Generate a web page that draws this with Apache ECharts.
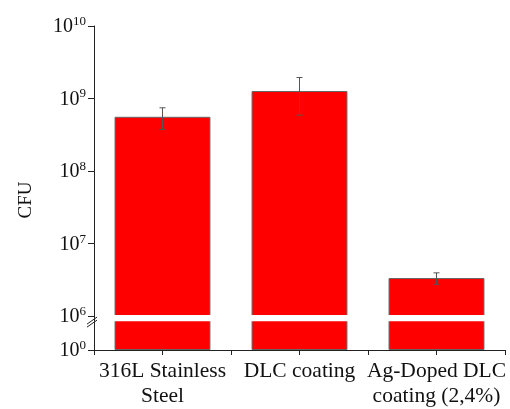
<!DOCTYPE html>
<html>
<head>
<meta charset="utf-8">
<script src="https://cdn.jsdelivr.net/npm/echarts@6/dist/echarts.min.js"></script>
<style>html,body{margin:0;padding:0;background:#fff}#c{width:510px;height:409px}</style>
</head>
<body>
<div id="c"></div>
<script>
// ---- data ----
const categories = ['316L Stainless\nSteel', 'DLC coating', 'Ag-Doped DLC\ncoating (2,4%)'];
const cfuMean = [5.6e8, 1.27e9, 3.35e6];
const cfuError = [1.85e8, 0.68e9, 0.6e6];
const tickExponents = [0, 6, 7, 8, 9, 10];

// ---- broken log scale: 10^0 sits a short gap below 10^6 ----
const BREAK_GAP = 0.467;      // axis units between 10^0 and 10^6
const BREAK_LOW = 6;          // exponent where the upper part starts
function tr(v) {
  if (v <= 1) return 0;
  return Math.log10(v) - BREAK_LOW + BREAK_GAP;
}
function expToT(e) { return e === 0 ? 0 : e - BREAK_LOW + BREAK_GAP; }
const tickT = tickExponents.map(expToT);
const yMax = expToT(10);

const FONT = 'Liberation Serif';

const chart = echarts.init(document.getElementById('c'), null, {renderer: 'canvas'});
chart.setOption({
  animation: false,
  backgroundColor: '#fff',
  grid: {left: 94, right: 5, top: 26, bottom: 58, containLabel: false},
  xAxis: [{
    type: 'category',
    data: categories,
    axisLine: {show: true, lineStyle: {color: '#222', width: 1}},
    axisTick: {show: true, alignWithLabel: true, inside: false, length: 5, lineStyle: {color: '#222'}},
    axisLabel: {fontFamily: FONT, fontSize: 21.5, color: '#111', lineHeight: 25, margin: 9, interval: 0},
    splitLine: {show: false}
  }, {
    type: 'category',
    data: categories,
    position: 'bottom',
    axisLine: {show: false},
    axisTick: {show: true, alignWithLabel: false, length: 5, lineStyle: {color: '#222'}},
    axisLabel: {show: false},
    splitLine: {show: false}
  }],
  yAxis: {
    type: 'value',
    min: 0,
    max: yMax,
    name: 'CFU',
    nameLocation: 'middle',
    nameGap: 58,
    nameRotate: 90,
    nameTextStyle: {fontFamily: FONT, fontSize: 19, color: '#111', padding: [0, 24, 0, 0]},
    axisLine: {show: true, lineStyle: {color: '#222', width: 1}},
    axisTick: {show: true, length: 6, customValues: tickT, lineStyle: {color: '#222'}},
    splitLine: {show: false},
    axisLabel: {
      customValues: tickT,
      margin: 8,
      formatter: function (val) {
        let best = 0, bd = 1e9;
        tickExponents.forEach(function (e) {
          const d = Math.abs(expToT(e) - val);
          if (d < bd) { bd = d; best = e; }
        });
        return '{b|10}{s|' + best + '}';
      },
      rich: {
        b: {fontFamily: FONT, fontSize: 20, color: '#111', lineHeight: 22, verticalAlign: 'bottom'},
        s: {fontFamily: FONT, fontSize: 13, color: '#111', lineHeight: 13, verticalAlign: 'top'}
      }
    }
  },
  series: [{
    type: 'bar',
    data: cfuMean.map(tr),
    barWidth: '70%',
    itemStyle: {color: '#ff0000', borderColor: '#666', borderWidth: 1}
  }, {
    type: 'custom',
    z: 5,
    data: cfuMean.map(function (m, i) { return [i, tr(m + cfuError[i]), tr(m - cfuError[i])]; }),
    renderItem: function (params, api) {
      const top = api.coord([api.value(0), api.value(1)]);
      const bot = api.coord([api.value(0), api.value(2)]);
      const x = top[0], w = 3;
      const st = {stroke: '#555', lineWidth: 1};
      return {type: 'group', children: [
        {type: 'line', shape: {x1: x, y1: top[1], x2: x, y2: bot[1]}, style: st},
        {type: 'line', shape: {x1: x - w, y1: top[1], x2: x + w, y2: top[1]}, style: st},
        {type: 'line', shape: {x1: x - w, y1: bot[1], x2: x + w, y2: bot[1]}, style: st}
      ]};
    }
  }, {
    type: 'custom',
    z: 6,
    clip: false,
    silent: true,
    data: [[0, 0]],
    renderItem: function (params, api) {
      const cs = params.coordSys;
      const yTop = api.coord([0, BREAK_GAP + 0.014])[1];
      const yBot = api.coord([0, BREAK_GAP - 0.069])[1];
      const ax = cs.x;
      const cy = (yTop + yBot) / 2 + 3;
      const ls = {stroke: '#222', lineWidth: 1};
      return {type: 'group', children: [
        {type: 'rect', shape: {x: cs.x + 1, y: yTop, width: cs.width, height: yBot - yTop}, style: {fill: '#fff'}},
        {type: 'line', shape: {x1: ax - 7, y1: cy + 3, x2: ax + 3, y2: cy - 4}, style: ls},
        {type: 'line', shape: {x1: ax - 7, y1: cy + 6, x2: ax + 3, y2: cy - 1}, style: ls}
      ]};
    }
  }]
});
</script>
</body>
</html>
